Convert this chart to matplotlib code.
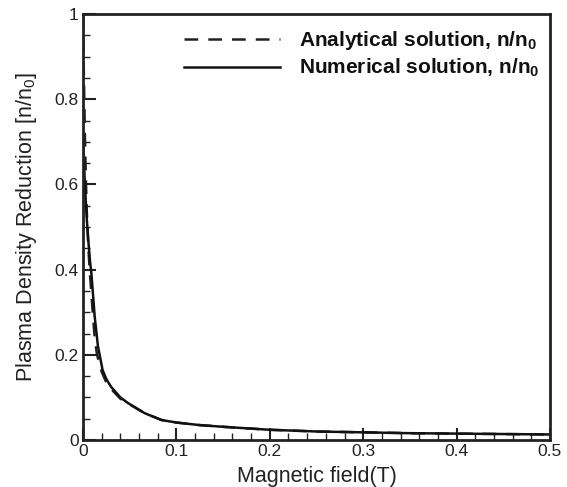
import matplotlib
matplotlib.use("Agg")
import matplotlib.pyplot as plt
from matplotlib.ticker import MultipleLocator

plt.rcParams['font.family'] = ['Liberation Sans', 'DejaVu Sans']
plt.rcParams['mathtext.fontset'] = 'custom'
plt.rcParams['mathtext.rm'] = 'Liberation Sans'
plt.rcParams['mathtext.bf'] = 'Liberation Sans:bold'
plt.rcParams['mathtext.default'] = 'regular'

# Numerical solution
B_num = [0.0, 0.001, 0.002, 0.004, 0.006, 0.0075, 0.009, 0.0125, 0.016, 0.021,
         0.025, 0.03, 0.04, 0.048, 0.066, 0.084, 0.1, 0.125, 0.15, 0.2,
         0.25, 0.3, 0.35, 0.4, 0.45, 0.5]
n_num = [0.72, 0.66, 0.6, 0.52, 0.46, 0.42, 0.39, 0.29, 0.22, 0.164,
         0.143, 0.125, 0.1, 0.087, 0.063, 0.047, 0.041, 0.035, 0.031, 0.024,
         0.02, 0.018, 0.016, 0.015, 0.014, 0.013]

# Analytical solution
B_ana = [0.0, 0.0005, 0.001, 0.002, 0.003, 0.004, 0.0055, 0.0071, 0.0107, 0.0125,
         0.015, 0.02, 0.025, 0.03, 0.04, 0.048, 0.066, 0.084, 0.1, 0.125, 0.15, 0.2,
         0.25, 0.3, 0.35, 0.4, 0.45, 0.5]
n_ana = [1.0, 0.92, 0.85, 0.72, 0.62, 0.54, 0.46, 0.4, 0.29, 0.24,
         0.2, 0.16, 0.135, 0.12, 0.097, 0.086, 0.063, 0.047, 0.041, 0.035, 0.031, 0.024,
         0.02, 0.018, 0.016, 0.015, 0.014, 0.013]

fig = plt.figure(figsize=(5.67, 4.87), dpi=100)
ax = fig.add_axes([0.1464, 0.0965, 0.8236, 0.8745])

ax.plot(B_ana, n_ana, color='#222222', lw=1.8, linestyle=(0, (5.5, 4)),
        label=r'Analytical solution, n/n$_\mathbf{0}$')
ax.plot(B_num, n_num, color='#111111', lw=1.8, linestyle='-',
        label=r'Numerical solution, n/n$_\mathbf{0}$')

ax.set_xlim(0, 0.5)
ax.set_ylim(0, 1)
ax.xaxis.set_minor_locator(MultipleLocator(0.02))
ax.yaxis.set_minor_locator(MultipleLocator(0.05))
ax.set_xticks([0, 0.1, 0.2, 0.3, 0.4, 0.5])
ax.set_xticklabels(['0', '0.1', '0.2', '0.3', '0.4', '0.5'])
ax.set_yticks([0, 0.2, 0.4, 0.6, 0.8, 1.0])
ax.set_yticklabels(['0', '0.2', '0.4', '0.6', '0.8', '1'])
ax.tick_params(which='both', direction='in', top=False, right=False,
               labelsize=12.5, colors='#222222')
ax.tick_params(which='major', length=9, width=1.5, pad=3)
ax.tick_params(which='minor', length=5, width=1.0)
for s in ax.spines.values():
    s.set_linewidth(2.0)
    s.set_color('#222222')

ax.set_xlabel('Magnetic field(T)', fontsize=15.5, labelpad=5, color='#222222')
ax.set_ylabel(r'Plasma Density Reduction [n/n$_0$]', fontsize=15.5, labelpad=11, color='#222222')

leg = ax.legend(loc='upper right', frameon=False,
                prop={'weight': 'bold', 'size': 15}, handlelength=4.6,
                handletextpad=0.9, labelspacing=0.25,
                bbox_to_anchor=(1.0, 0.99), borderaxespad=0.1)
for t in leg.get_texts():
    t.set_color('#111111')

fig.savefig('out.png', dpi=100)
